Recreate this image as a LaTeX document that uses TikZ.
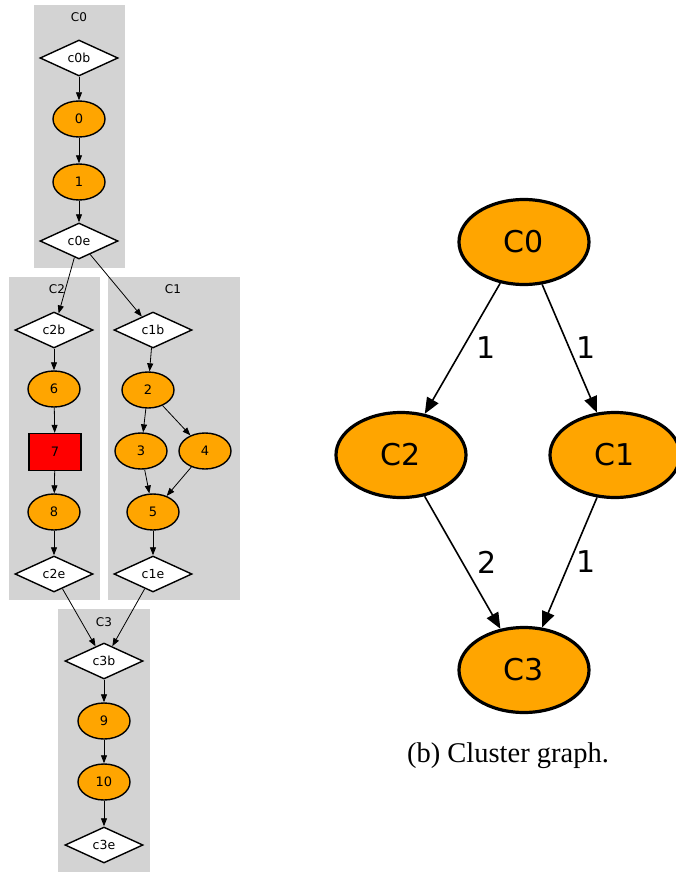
\documentclass[tikz,border=0pt]{standalone}
\usepackage{fontspec}
\setmainfont{Liberation Serif}
\newfontfamily\dv{DejaVu Sans}
\usetikzlibrary{shapes.geometric,arrows.meta}
\definecolor{clgray}{HTML}{D3D3D3}
\definecolor{gvorange}{HTML}{FFA500}
\begin{document}
\begin{tikzpicture}[x=1pt,y=-1pt,
 cluster/.style={fill=clgray,draw=none},
 clabel/.style={font=\dv\fontsize{12}{14}\selectfont},
 dnode/.style={diamond,draw=black,fill=white,line width=1.4pt,minimum width=78pt,minimum height=36pt,inner sep=0pt,aspect=2.2,font=\dv\fontsize{12.5}{14}\selectfont},
 onode/.style={ellipse,draw=black,fill=gvorange,line width=1.4pt,minimum width=52pt,minimum height=36pt,inner sep=0pt,font=\dv\fontsize{13}{15}\selectfont},
 rnode/.style={rectangle,draw=black,fill=red,line width=1.4pt,minimum width=52pt,minimum height=37pt,inner sep=0pt,font=\dv\fontsize{13}{15}\selectfont},
 sedge/.style={-{Triangle[length=8pt,width=6pt]},line width=0.8pt},
 bnode/.style={ellipse,draw=black,fill=gvorange,line width=3.2pt,minimum width=130pt,minimum height=85pt,inner sep=0pt,font=\dv\fontsize{30}{34}\selectfont},
 bedge/.style={-{Triangle[length=16pt,width=13pt]},line width=1.6pt},
 elabel/.style={font=\dv\fontsize{30}{34}\selectfont}
]
\useasboundingbox (0,0) rectangle (675,872);
% clusters
\fill[cluster] (34,5) rectangle (125,268);
\fill[cluster] (9,277) rectangle (100,600);
\fill[cluster] (108,277) rectangle (240,600);
\fill[cluster] (58,609) rectangle (150,872);
\node[clabel] (lC0) at (79,17) {C0};
\node[clabel] (lC2) at (57,289) {C2};
\node[clabel] (lC1) at (173,289) {C1};
\node[clabel] (lC3) at (104,622) {C3};
% C0
\node[dnode] (c0b) at (79,58) {c0b};
\node[onode] (n0) at (79,119) {0};
\node[onode] (n1) at (79,182) {1};
\node[dnode] (c0e) at (79,241) {c0e};
% C2
\node[dnode] (c2b) at (54,330) {c2b};
\node[onode] (n6) at (54,389) {6};
\node[rnode] (n7) at (55,452) {7};
\node[onode] (n8) at (54,512) {8};
\node[dnode] (c2e) at (54,574) {c2e};
% C1
\node[dnode] (c1b) at (153,330) {c1b};
\node[onode] (n2) at (148,390) {2};
\node[onode] (n3) at (141,451) {3};
\node[onode] (n4) at (205,451) {4};
\node[onode] (n5) at (153,512) {5};
\node[dnode] (c1e) at (153,574) {c1e};
% C3
\node[dnode] (c3b) at (104,661) {c3b};
\node[onode] (n9) at (104,721) {9};
\node[onode] (n10) at (104,782) {10};
\node[dnode] (c3e) at (104,845) {c3e};
% edges left
\draw[sedge] (c0b) -- (n0);
\draw[sedge] (n0) -- (n1);
\draw[sedge] (n1) -- (c0e);
\draw[sedge] (c0e) -- (c2b);
\draw[sedge] (c0e) -- (c1b);
\draw[sedge] (c2b) -- (n6);
\draw[sedge] (n6) -- (n7);
\draw[sedge] (n7) -- (n8);
\draw[sedge] (n8) -- (c2e);
\draw[sedge] (c1b) -- (n2);
\draw[sedge] (n2) -- (n3);
\draw[sedge] (n2) -- (n4);
\draw[sedge] (n3) -- (n5);
\draw[sedge] (n4) -- (n5);
\draw[sedge] (n5) -- (c1e);
\draw[sedge] (c2e) -- (c3b);
\draw[sedge] (c1e) -- (c3b);
\draw[sedge] (c3b) -- (n9);
\draw[sedge] (n9) -- (n10);
\draw[sedge] (n10) -- (c3e);
% right graph
\node[bnode] (C0) at (524,242) {C0};
\node[bnode] (C2) at (401,455) {C2};
\node[bnode] (C1) at (615,455) {C1};
\node[bnode] (C3) at (524,670) {C3};
\draw[bedge] (C0) -- (C2) node[elabel] (l02) at (486,348) {1};
\draw[bedge] (C0) -- (C1) node[elabel] (l01) at (586,348) {1};
\draw[bedge] (C2) -- (C3) node[elabel] (l23) at (487,562) {2};
\draw[bedge] (C1) -- (C3) node[elabel] (l13) at (586,562) {1};
\node[font=\fontsize{28.5}{32}\selectfont] (cap) at (508,756) {(b) Cluster graph.};
\end{tikzpicture}
\end{document}
